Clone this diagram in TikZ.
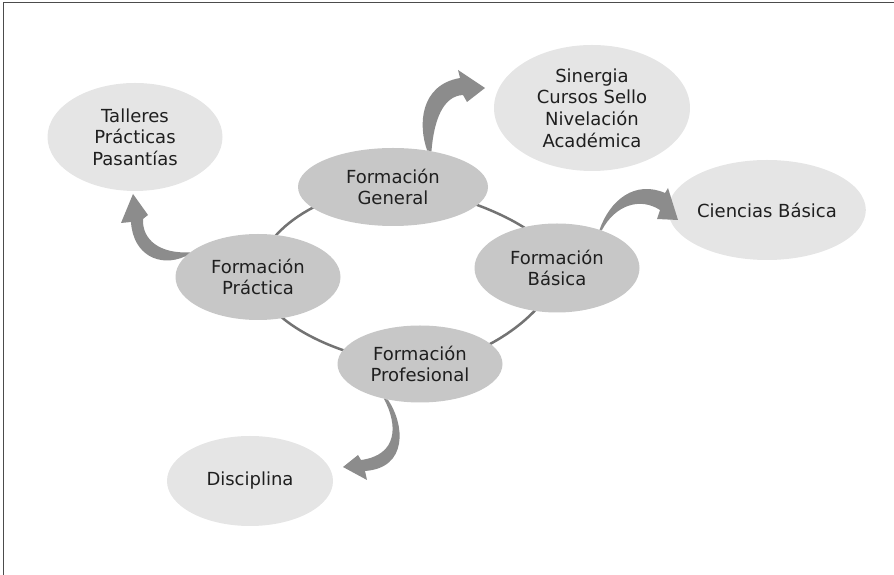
\documentclass[tikz,border=0pt]{standalone}
\usepackage{fontspec}
\setmainfont{DejaVu Sans}
\usetikzlibrary{shapes.geometric,backgrounds}
\tikzset{
    %Define style for the inner ellipses
    formacion/.style={
           ellipse,
           fill=black!22,
           inner sep=0pt,
           minimum width=165pt,
           minimum height=86pt,
           font=\fontsize{18}{21.6}\selectfont,
           text=black!88,
           align=center},
    %Define style for the outer ellipses
    salida/.style={
           ellipse,
           fill=black!10,
           inner sep=0pt,
           minimum width=166pt,
           minimum height=90pt,
           font=\fontsize{18}{21.6}\selectfont,
           text=black!88,
           align=center},
    % Define arrow style
    flecha/.style={
           fill=black!45},
    anillo/.style={
           draw=black!55,
           line width=2.5pt}
}
\begin{document}
\begin{tikzpicture}[x=1pt,y=1pt]
\useasboundingbox (0,0) rectangle (894,575);
\draw[black!70, line width=1pt] (3,0) -- (3,572) -- (894,572);
 %nodes
\node[formacion, minimum width=190pt, minimum height=78pt] (gen) at (393,388) {Formación\\General};
\node[formacion] (pra) at (258,298) {Formación\\Práctica};
\node[formacion, minimum height=89pt] (bas) at (557,307) {Formación\\Básica};
\node[formacion, minimum height=77pt] (pro) at (420,211) {Formación\\Profesional};
\node[salida, minimum width=175pt, minimum height=108pt] (tal) at (135,438) {Talleres\\Prácticas\\Pasantías};
\node[salida, minimum width=196pt, minimum height=126pt] (sin) at (592,467) {Sinergia\\Cursos Sello\\Nivelación\\Académica};
\node[salida, minimum width=165pt, minimum height=100pt] (cie) at (767,365) {Ciencias Básica};
\node[salida] (dis) at (250,94) {Disciplina};
 %ring
\begin{scope}[on background layer]
\draw[anillo] (gen.center) .. controls +(55,0) and +(0,40) .. (bas.center)
    .. controls +(0,-40) and +(60,0) .. (pro.center)
    .. controls +(-70,0) and +(0,-45) .. (pra.center)
    .. controls +(0,50) and +(-60,0) .. (gen.center);
\end{scope}
 %arrows
\fill[flecha] (gen.47) .. controls (418,450) and (420,490) .. (460,497)
    -- (458,505) -- (485,487) -- (467,473) -- (463,480)
    .. controls (443,479) and (434,455) .. (gen.43) -- cycle;
\fill[flecha] (bas.42) .. controls (610,375) and (635,395) .. (665,382)
    -- (668,387) -- (678,355) -- (657,356) -- (660,365)
    .. controls (640,378) and (615,370) .. (bas.40) -- cycle;
\fill[flecha] (pra.164) .. controls (160,307) and (133,320) .. (131,353)
    -- (121,352) -- (133,381) -- (148,360) -- (143,356)
    .. controls (142,335) and (160,321) .. (pra.160) -- cycle;
\fill[flecha] (pro.-136) .. controls (398,150) and (398,120) .. (361,115)
    -- (358,120) -- (343,108) -- (367,95) -- (365,104)
    .. controls (408,107) and (405,150) .. (pro.-132) -- cycle;
\end{tikzpicture}
\end{document}
